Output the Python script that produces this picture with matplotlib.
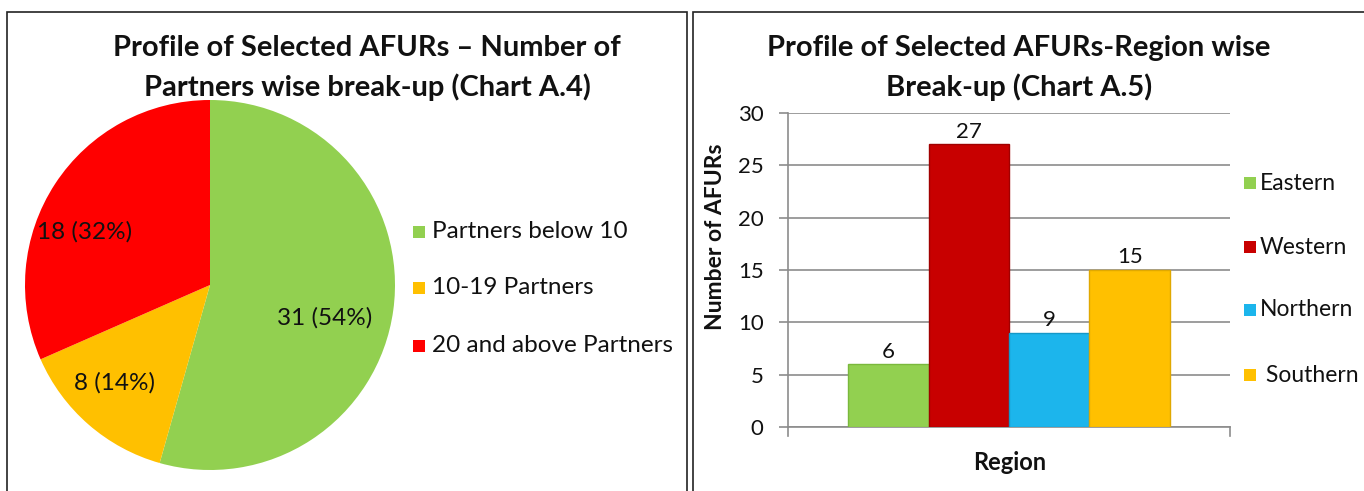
import matplotlib
matplotlib.use("Agg")
import matplotlib.pyplot as plt
from matplotlib.patches import Rectangle

plt.rcParams['font.family'] = ['Lato', 'DejaVu Sans']

# ---- data ----
pie_labels = ["Partners below 10", "10-19 Partners", "20 and above Partners"]
pie_values = [31, 8, 18]
pie_pct = [54, 14, 32]
pie_colors = ["#92D050", "#FFC000", "#FF0000"]

regions = ["Eastern", "Western", "Northern", "Southern"]
region_values = [6, 27, 9, 15]
region_colors = ["#92D050", "#C80000", "#1CB5EC", "#FFC000"]
region_edges = ["#7AB83C", "#A00000", "#1598C8", "#E0A800"]
yticks = [0, 5, 10, 15, 20, 25, 30]

W, H = 1364, 491
fig = plt.figure(figsize=(W / 100, H / 100), dpi=100)

def fx(px):
    return px / W

def fy(py):
    return 1 - py / H

TXT = "#111111"
GRID = "#8c8c8c"

# panel borders
fig.patches.append(Rectangle((fx(7), fy(495)), fx(680), fy(12) - fy(495),
                             transform=fig.transFigure, fill=False,
                             edgecolor="#222222", linewidth=1.2))
fig.patches.append(Rectangle((fx(693), fy(495)), fx(700), fy(12) - fy(495),
                             transform=fig.transFigure, fill=False,
                             edgecolor="#222222", linewidth=1.2))

# ---- pie ----
cx, cy, r = 210, 285, 185
axp = fig.add_axes([fx(cx - r), fy(cy + r), fx(2 * r), fy(cy - r) - fy(cy + r)])
wedges, _ = axp.pie(pie_values, colors=pie_colors, startangle=90, counterclock=False,
                    radius=1, wedgeprops=dict(edgecolor="none"))
axp.set_xlim(-1, 1)
axp.set_ylim(-1, 1)
axp.set_aspect('auto')
axp.axis('off')

lbl_pos = [(325, 318), (115, 383), (85, 232)]
for (px, py), v, p in zip(lbl_pos, pie_values, pie_pct):
    fig.text(fx(px), fy(py), f"{v} ({p}%)", ha='center', va='center',
             fontsize=17.5, color=TXT)

fig.text(fx(367), fy(48), "Profile of Selected AFURs \u2013 Number of", ha='center',
         va='center', fontsize=21, fontweight='bold', color=TXT)
fig.text(fx(367), fy(87), "Partners wise break-up (Chart A.4)", ha='center',
         va='center', fontsize=21, fontweight='bold', color=TXT)

leg_y = [232, 288, 346]
for lab, col, ly in zip(pie_labels, pie_colors, leg_y):
    fig.patches.append(Rectangle((fx(413), fy(ly + 6)), fx(12), fy(ly - 6) - fy(ly + 6),
                                 transform=fig.transFigure, facecolor=col,
                                 edgecolor="none"))
    fig.text(fx(432), fy(ly), lab, ha='left', va='center', fontsize=17.5, color=TXT)

# ---- bar chart ----
axb = fig.add_axes([fx(788), fy(427), fx(1230 - 788), fy(113) - fy(427)])
w = 0.182
center = 0.0
for i, (reg, val, col, ec) in enumerate(zip(regions, region_values, region_colors,
                                            region_edges)):
    xpos = center + (i - 1.5) * w
    axb.bar(xpos, val, width=w, color=col, edgecolor=ec, linewidth=1.0, zorder=3,
            label=reg)
    axb.text(xpos, val + 1.2, str(val), ha='center', va='center', fontsize=16,
             color=TXT)
axb.set_xlim(-0.5, 0.5)
axb.set_ylim(0, 30)
axb.set_yticks(yticks)
axb.set_yticklabels([str(t) for t in yticks], fontsize=16, color=TXT)
axb.set_xticks([])
axb.yaxis.grid(True, color=GRID, linewidth=1.2, zorder=0)
axb.tick_params(axis='y', length=6.5, width=1.2, color=GRID, pad=11)
for s in ['top', 'right']:
    axb.spines[s].set_visible(False)
axb.spines['left'].set_color(GRID)
axb.spines['bottom'].set_color(GRID)
axb.spines['left'].set_linewidth(1.2)
axb.spines['bottom'].set_linewidth(1.2)
# end tick marks on bottom axis
axb.plot([-0.5, -0.5], [0, -0.85], color=GRID, clip_on=False, lw=1.2)
axb.plot([0.5, 0.5], [0, -0.85], color=GRID, clip_on=False, lw=1.2)

fig.text(fx(716), fy(237), "Number of AFURs", rotation=90, ha='center', va='center',
         fontsize=16.5, fontweight='bold', color=TXT)
fig.text(fx(1010), fy(462), "Region", ha='center', va='center',
         fontsize=17, fontweight='bold', color=TXT)

fig.text(fx(1019), fy(48), "Profile of Selected AFURs-Region wise", ha='center',
         va='center', fontsize=21, fontweight='bold', color=TXT)
fig.text(fx(1019), fy(87), "Break-up (Chart A.5)", ha='center',
         va='center', fontsize=21, fontweight='bold', color=TXT)

leg2_y = [183, 247, 310, 375]
for reg, col, ly in zip(regions, region_colors, leg2_y):
    fig.patches.append(Rectangle((fx(1244), fy(ly + 6)), fx(12), fy(ly - 6) - fy(ly + 6),
                                 transform=fig.transFigure, facecolor=col,
                                 edgecolor="none"))
    fig.text(fx(1260), fy(ly), (" " if reg == "Southern" else "") + reg, ha='left',
             va='center', fontsize=16.5, color=TXT)

fig.savefig("out.png", dpi=100)
